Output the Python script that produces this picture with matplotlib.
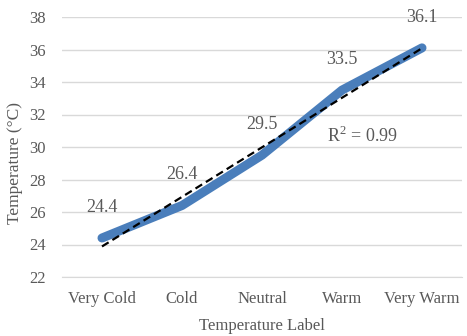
import matplotlib
matplotlib.use('Agg')
import matplotlib.pyplot as plt
import numpy as np

labels = ['Very Cold', 'Cold', 'Neutral', 'Warm', 'Very Warm']
temps = [24.4, 26.4, 29.5, 33.5, 36.1]
yticks = [22, 24, 26, 28, 30, 32, 34, 36, 38]

plt.rcParams['font.family'] = ['Liberation Serif', 'DejaVu Serif']
gray = '#595959'

fig = plt.figure(figsize=(4.67, 3.36), dpi=100)
ax = fig.add_axes([62 / 467, 1 - 277 / 336, 400 / 467, 260 / 336])

x = np.arange(1, len(temps) + 1)
ax.plot(x, temps, color='#4A7EBB', lw=6.5, solid_capstyle='round',
        solid_joinstyle='round', zorder=3)

# linear trendline
slope, icpt = np.polyfit(x, temps, 1)
fit = slope * x + icpt
r2 = 1 - np.sum((np.array(temps) - fit) ** 2) / np.sum((np.array(temps) - np.mean(temps)) ** 2)
ax.plot(x, fit, color='black', lw=1.6, ls=(0, (3.5, 2)), zorder=4)

for xi, t in zip(x, temps):
    ax.annotate(f'{t}', (xi, t), xytext=(0, 22), textcoords='offset points',
                ha='center', va='center', fontsize=13, color=gray)

ax.text(3.81, 30.7, r'R$^\mathregular{2}$ = ' + f'{r2:.2f}', ha='left', va='center',
        fontsize=13, color=gray)

ax.set_xlim(0.5, 5.5)
ax.set_ylim(22, 38)
ax.set_yticks(yticks)
ax.set_xticks(x)
ax.set_xticklabels(labels)
ax.yaxis.grid(True, color='#D9D9D9', lw=1)
ax.set_axisbelow(True)
for s in ['top', 'right', 'left']:
    ax.spines[s].set_visible(False)
ax.spines['bottom'].set_color('#D9D9D9')
ax.tick_params(length=0, labelsize=12, colors=gray, pad=10)
ax.tick_params(axis='y', pad=11.5)

ax.set_xlabel('Temperature Label', fontsize=12, color=gray, labelpad=8)
ax.set_ylabel('Temperature (°C)', fontsize=12.5, color=gray)
ax.yaxis.set_label_coords(-0.0975, 0.438)

fig.savefig('out.png', dpi=100)
